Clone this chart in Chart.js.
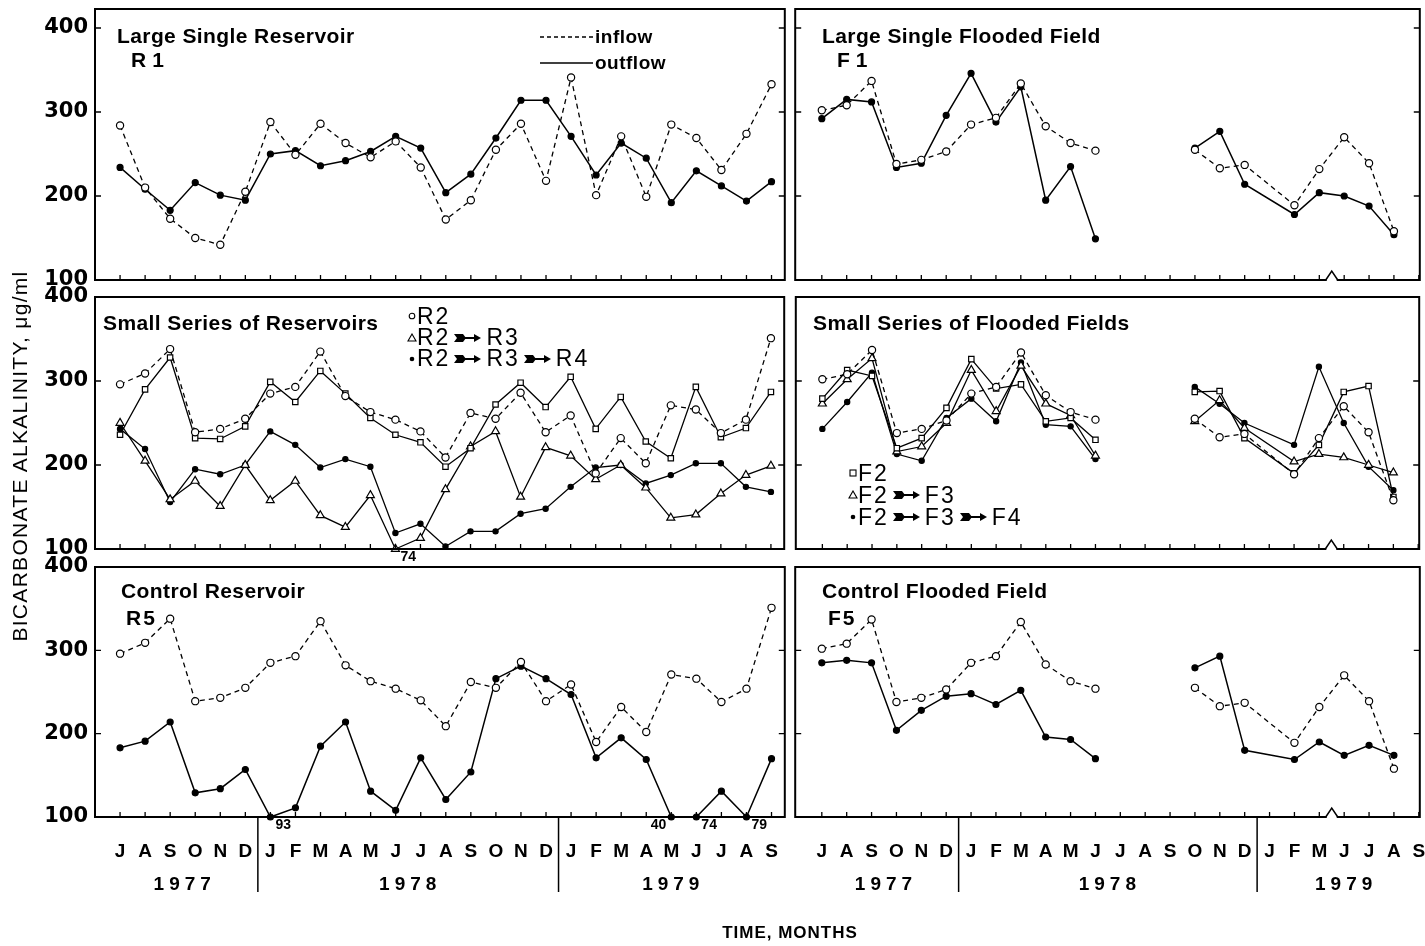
<!DOCTYPE html>
<html><head><meta charset="utf-8">
<script src="https://cdn.jsdelivr.net/npm/chart.js@4.4.1/dist/chart.umd.min.js"></script>
<style>
html,body{margin:0;padding:0;background:#fff;}
#page{position:relative;width:1425px;height:946px;overflow:hidden;background:#fff;font-family:"Liberation Sans",Arial,sans-serif;color:#000;}
canvas{position:absolute;}
.t{position:absolute;font-weight:bold;font-size:21px;letter-spacing:0.4px;line-height:22px;white-space:nowrap;}
.lg{position:absolute;font-size:23px;letter-spacing:2px;line-height:21px;white-space:nowrap;}
.lg div{display:flex;align-items:center;height:21px;}
.lg svg{display:block;}
.lg .ar{margin:0 5px 0 4px;}
.leg1{position:absolute;font-weight:bold;font-size:19px;line-height:22px;letter-spacing:0.5px;}
</style></head><body><div id="page">
<canvas id="c1" width="760" height="300" style="left:30px;top:0px"></canvas>
<canvas id="c2" width="635" height="300" style="left:790px;top:0px"></canvas>
<canvas id="c3" width="760" height="280" style="left:30px;top:283px"></canvas>
<canvas id="c4" width="635" height="280" style="left:790px;top:283px"></canvas>
<canvas id="c5" width="760" height="393" style="left:30px;top:553px"></canvas>
<canvas id="c6" width="635" height="393" style="left:790px;top:553px"></canvas>

<div class="t" style="left:117px;top:25px">Large Single Reservoir</div>
<div class="t" style="left:131px;top:49px;letter-spacing:6px">R1</div>
<svg style="position:absolute;left:540px;top:28px" width="56" height="44">
  <line x1="0" y1="9" x2="53" y2="9" stroke="#000" stroke-width="1.3" stroke-dasharray="4 3"/>
  <line x1="0" y1="35" x2="53" y2="35" stroke="#000" stroke-width="1.3"/>
</svg>
<div class="leg1" style="left:595px;top:26px">inflow</div>
<div class="leg1" style="left:595px;top:52px">outflow</div>

<div class="t" style="left:822px;top:25px">Large Single Flooded Field</div>
<div class="t" style="left:837px;top:49px;letter-spacing:6px">F1</div>

<div class="t" style="left:103px;top:312px">Small Series of Reservoirs</div>
<div class="lg" style="left:407px;top:306px">
  <div><svg width="10" height="10"><circle cx="5" cy="4" r="2.8" fill="#fff" stroke="#000" stroke-width="1.1"/></svg>R2</div>
  <div><svg width="10" height="10"><polygon points="5,1 9,8 1,8" fill="#fff" stroke="#000" stroke-width="1.1"/></svg>R2<svg class="ar" width="27" height="12"><path d="M0 2 L9 2 L12 6 L9 10 L0 10 L3 6 Z" fill="#000"/><line x1="11" y1="6" x2="22" y2="6" stroke="#000" stroke-width="2"/><path d="M20 2 L27 6 L20 10 Z" fill="#000"/></svg>R3</div>
  <div><svg width="10" height="10"><circle cx="5" cy="5" r="2.3" fill="#000"/></svg>R2<svg class="ar" width="27" height="12"><path d="M0 2 L9 2 L12 6 L9 10 L0 10 L3 6 Z" fill="#000"/><line x1="11" y1="6" x2="22" y2="6" stroke="#000" stroke-width="2"/><path d="M20 2 L27 6 L20 10 Z" fill="#000"/></svg>R3<svg class="ar" width="27" height="12"><path d="M0 2 L9 2 L12 6 L9 10 L0 10 L3 6 Z" fill="#000"/><line x1="11" y1="6" x2="22" y2="6" stroke="#000" stroke-width="2"/><path d="M20 2 L27 6 L20 10 Z" fill="#000"/></svg>R4</div>
</div>

<div class="t" style="left:813px;top:312px">Small Series of Flooded Fields</div>
<div class="lg" style="left:848px;top:462px;line-height:22px">
  <div style="height:22px"><svg width="10" height="10"><rect x="2" y="2" width="6" height="6" fill="#fff" stroke="#000" stroke-width="1.1"/></svg>F2</div>
  <div style="height:22px"><svg width="10" height="10"><polygon points="5,1 9,8 1,8" fill="#fff" stroke="#000" stroke-width="1.1"/></svg>F2<svg class="ar" width="27" height="12"><path d="M0 2 L9 2 L12 6 L9 10 L0 10 L3 6 Z" fill="#000"/><line x1="11" y1="6" x2="22" y2="6" stroke="#000" stroke-width="2"/><path d="M20 2 L27 6 L20 10 Z" fill="#000"/></svg>F3</div>
  <div style="height:22px"><svg width="10" height="10"><circle cx="5" cy="5" r="2.3" fill="#000"/></svg>F2<svg class="ar" width="27" height="12"><path d="M0 2 L9 2 L12 6 L9 10 L0 10 L3 6 Z" fill="#000"/><line x1="11" y1="6" x2="22" y2="6" stroke="#000" stroke-width="2"/><path d="M20 2 L27 6 L20 10 Z" fill="#000"/></svg>F3<svg class="ar" width="27" height="12"><path d="M0 2 L9 2 L12 6 L9 10 L0 10 L3 6 Z" fill="#000"/><line x1="11" y1="6" x2="22" y2="6" stroke="#000" stroke-width="2"/><path d="M20 2 L27 6 L20 10 Z" fill="#000"/></svg>F4</div>
</div>

<div class="t" style="left:121px;top:580px">Control Reservoir</div>
<div class="t" style="left:126px;top:607px;letter-spacing:2px">R5</div>
<div class="t" style="left:822px;top:580px">Control Flooded Field</div>
<div class="t" style="left:828px;top:607px;letter-spacing:2px">F5</div>

<div style="position:absolute;left:640px;top:922px;width:300px;text-align:center;font-weight:bold;font-size:17px;letter-spacing:1px;line-height:22px">TIME, MONTHS</div>
<div style="position:absolute;left:20px;top:456px;width:0;height:0">
  <div style="position:absolute;left:-250px;top:-12px;width:500px;text-align:center;transform:rotate(-90deg);font-size:21px;letter-spacing:1.3px;line-height:24px;white-space:nowrap">BICARBONATE ALKALINITY, μg/ml</div>
</div>
</div>
<script>
// ---------- categories / ticks ----------
const monthsLeft  = ['J','A','S','O','N','D','J','F','M','A','M','J','J','A','S','O','N','D','J','F','M','A','M','J','J','A','S'];
const monthsRight = ['J','A','S','O','N','D','J','F','M','A','M','J','J','A','S','O','N','D','J','F','M','J','J','A','S'];
const years = ['1977','1978','1979'];
const yTicks = [100, 200, 300, 400];

// ---------- reservoirs (Jul 1977 - Sep 1979) ----------
const r1Inflow  = [284,210,173,150,142,205,288,249,286,263,246,265,234,172,195,255,286,218,341,201,271,199,285,269,231,274,333];
const r1Outflow = [234,208,183,216,201,195,250,254,236,242,253,271,257,204,226,269,314,314,271,225,263,245,192,230,212,194,217];
const resInflow = [296,309,338,239,243,255,285,293,335,282,263,254,240,209,262,255,286,239,259,190,232,202,271,266,238,254,351];
const r2Out     = [236,290,328,232,231,246,299,275,312,285,256,236,227,198,220,272,298,269,305,243,281,228,208,293,233,244,287];
const r3Out     = [250,205,159,181,151,200,158,181,140,126,164,74,113,171,222,240,162,221,211,183,200,173,137,141,166,188,199];
const r4Out     = [243,219,156,195,189,200,240,224,197,207,198,119,130,103,121,121,142,148,174,197,200,178,188,202,202,174,168];
const r5Outflow = [183,191,214,129,134,157,93,111,185,214,131,108,171,121,154,266,281,266,247,171,195,169,40,74,131,79,170];

// ---------- flooded fields ----------
const fieldInflow = [302,308,337,238,243,253,285,293,334,283,263,254,null,null,null,255,233,237,null,189,232,270,239,158,null];
const f1Outflow   = [292,315,312,234,239,296,346,288,330,195,235,149,null,null,null,257,277,214,null,178,204,200,188,154,null];
const f2Out       = [279,313,306,220,232,268,326,291,296,252,256,230,null,null,null,287,288,232,null,190,224,287,294,162,null];
const f3Out       = [273,302,327,216,222,250,313,264,318,273,259,211,null,null,null,252,277,244,null,204,213,209,200,191,null];
const f4Out       = [243,275,310,213,205,256,279,252,322,248,246,207,null,null,null,293,273,250,null,224,317,250,198,170,null];
const f5Outflow   = [285,288,285,204,228,245,248,235,252,196,193,170,null,null,null,279,293,180,null,169,190,174,186,174,null];

const FONT = '"Liberation Sans", Arial, sans-serif';
const STY = {
  inflow:  {borderDash:[5,4], borderWidth:1.3, pointStyle:'circle', pointRadius:3.6, pointBackgroundColor:'#fff'},
  outflow: {borderWidth:1.5, pointStyle:'circle', pointRadius:3, pointBackgroundColor:'#000'},
  square:  {borderWidth:1.3, pointStyle:'rect', pointRadius:3.8, pointBackgroundColor:'#fff'},
  tri:     {borderWidth:1.3, pointStyle:'triangle', pointRadius:4.6, pointBackgroundColor:'#fff'},
  dot:     {borderWidth:1.3, pointStyle:'circle', pointRadius:2.6, pointBackgroundColor:'#000'}
};
function ds(key, values, style) {
  const pts = values.map((v, i) => ({x: i, y: v === null ? null : Math.max(v, 100)})).filter(p => p.y !== null);
  return Object.assign({key, origValues: values, data: pts, borderColor:'#000', pointBorderColor:'#000',
    pointBorderWidth:1.2, tension:0, clip:false, fill:false, spanGaps:2.5}, style);
}

function framePlugin(months, brk) {
  return {id:'frame', afterDraw(chart) {
    const {ctx, chartArea:a, scales:{x, y}} = chart;
    ctx.save();
    ctx.strokeStyle = '#000';
    ctx.lineWidth = 2;
    ctx.strokeRect(a.left, a.top, a.right - a.left, a.bottom - a.top);
    ctx.lineWidth = 1.3;
    ctx.beginPath();
    months.forEach((_, i) => { const px = x.getPixelForValue(i); ctx.moveTo(px, a.bottom); ctx.lineTo(px, a.bottom - 5); });
    yTicks.forEach(v => { if (v > y.min && v < y.max) { const py = y.getPixelForValue(v);
      ctx.moveTo(a.left, py); ctx.lineTo(a.left + 6, py); ctx.moveTo(a.right, py); ctx.lineTo(a.right - 6, py); } });
    ctx.stroke();
    if (brk !== null) {
      const bx = x.getPixelForValue(brk);
      ctx.strokeStyle = '#fff'; ctx.lineWidth = 3;
      ctx.beginPath(); ctx.moveTo(bx - 5, a.bottom); ctx.lineTo(bx + 5, a.bottom); ctx.stroke();
      ctx.strokeStyle = '#000'; ctx.lineWidth = 1.5;
      ctx.beginPath(); ctx.moveTo(bx - 6, a.bottom); ctx.lineTo(bx, a.bottom - 9); ctx.lineTo(bx + 6, a.bottom); ctx.stroke();
    }
    ctx.restore();
  }};
}
function offscalePlugin(sides) {
  return {id:'offscale', afterDatasetsDraw(chart) {
    const {ctx, scales:{x, y}} = chart;
    ctx.save();
    ctx.font = 'bold 14px ' + FONT; ctx.fillStyle = '#000'; ctx.textBaseline = 'middle';
    chart.data.datasets.forEach(d => d.origValues.forEach((v, i) => {
      if (v !== null && v < y.min) {
        const side = sides[d.key + ':' + i] || 1;
        const px = x.getPixelForValue(i), py = y.getPixelForValue(y.min);
        ctx.textAlign = side > 0 ? 'left' : 'right';
        ctx.fillText(String(v), px + side * 5, py + 8);
      }
    }));
    ctx.restore();
  }};
}
function yearsPlugin(months) {
  return {id:'years', afterDraw(chart) {
    const {ctx, chartArea:a, scales:{x}} = chart;
    const starts = [0];
    months.forEach((m, i) => { if (i > 0 && months[i - 1] === 'D') starts.push(i); });
    ctx.save();
    ctx.strokeStyle = '#000'; ctx.lineWidth = 1.5; ctx.fillStyle = '#000';
    ctx.font = 'bold 19px ' + FONT; ctx.textAlign = 'center'; ctx.textBaseline = 'middle';
    try { ctx.letterSpacing = '5px'; } catch (e) {}
    starts.forEach((s, k) => {
      const e = (k + 1 < starts.length ? starts[k + 1] : months.length) - 1;
      const cx = (x.getPixelForValue(s) + x.getPixelForValue(e)) / 2;
      ctx.fillText(years[k], cx + 2, a.bottom + 68);
      if (k > 0) { const sx = x.getPixelForValue(s - 0.5);
        ctx.beginPath(); ctx.moveTo(sx, a.bottom); ctx.lineTo(sx, a.bottom + 75); ctx.stroke(); }
    });
    ctx.restore();
  }};
}

function panel(id, cfg) {
  const months = cfg.months;
  const showX = !!cfg.showX, showY = !!cfg.showY;
  const plugins = [framePlugin(months, cfg.brk), offscalePlugin(cfg.sides || {})];
  if (showX) plugins.push(yearsPlugin(months));
  return new Chart(document.getElementById(id), {
    type: 'line',
    data: {datasets: cfg.datasets},
    options: {
      responsive: false, animation: false, devicePixelRatio: 1, events: [],
      layout: {padding: cfg.pad},
      plugins: {legend: {display: false}, tooltip: {enabled: false}},
      scales: {
        x: {type: 'linear', min: cfg.xmin, max: cfg.xmax, display: showX, position: 'bottom',
          grid: {display: false, drawTicks: false}, border: {display: false},
          afterBuildTicks: s => { s.ticks = months.map((_, i) => ({value: i})); },
          afterFit: s => { s.height = showX ? 70 : 0; s.paddingLeft = 0; s.paddingRight = 0; },
          ticks: {autoSkip: false, maxRotation: 0, minRotation: 0, padding: 23, color: '#000',
            font: {family: FONT, size: 19, weight: 'bold'}, callback: v => months[v]}},
        y: {type: 'linear', min: 100, max: cfg.ymax, display: showY, position: 'left',
          grid: {display: false, drawTicks: false}, border: {display: false},
          afterBuildTicks: s => { s.ticks = yTicks.filter(v => v <= s.max).map(v => ({value: v})); },
          afterFit: s => { s.width = showY ? 65 : 0; s.paddingTop = 0; s.paddingBottom = 0; },
          ticks: {padding: 7, color: '#000', font: {family: '"DejaVu Sans", sans-serif', size: 21, weight: 'bold'},
            callback: v => String(v)}}
      }
    },
    plugins
  });
}

const L = {months: monthsLeft, xmin: -1.0, xmax: 26.53, showY: true, brk: null};
const R = {months: monthsRight, xmin: -1.07, xmax: 24.04, showY: false, brk: 20.5};

panel('c1', Object.assign({}, L, {ymax: 422.6, pad: {top: 9, bottom: 20, left: 0, right: 5},
  datasets: [ds('in', r1Inflow, STY.inflow), ds('out', r1Outflow, STY.outflow)]}));
panel('c2', Object.assign({}, R, {ymax: 422.6, pad: {top: 9, bottom: 20, left: 3, right: 2},
  datasets: [ds('in', fieldInflow, STY.inflow), ds('out', f1Outflow, STY.outflow)]}));
panel('c3', Object.assign({}, L, {ymax: 400, pad: {top: 14, bottom: 14, left: 0, right: 5},
  datasets: [ds('in', resInflow, STY.inflow), ds('r2', r2Out, STY.square), ds('r3', r3Out, STY.tri), ds('r4', r4Out, STY.dot)]}));
panel('c4', Object.assign({}, R, {ymax: 400, pad: {top: 14, bottom: 14, left: 3, right: 2},
  datasets: [ds('in', fieldInflow, STY.inflow), ds('f2', f2Out, STY.square), ds('f3', f3Out, STY.tri), ds('f4', f4Out, STY.dot)]}));
panel('c5', Object.assign({}, L, {ymax: 400, showX: true, pad: {top: 14, bottom: 59, left: 0, right: 5}, sides: {'out:22': -1},
  datasets: [ds('in', resInflow, STY.inflow), ds('out', r5Outflow, STY.outflow)]}));
panel('c6', Object.assign({}, R, {ymax: 400, showX: true, pad: {top: 14, bottom: 59, left: 3, right: 2},
  datasets: [ds('in', fieldInflow, STY.inflow), ds('out', f5Outflow, STY.outflow)]}));
</script>
</body></html>
